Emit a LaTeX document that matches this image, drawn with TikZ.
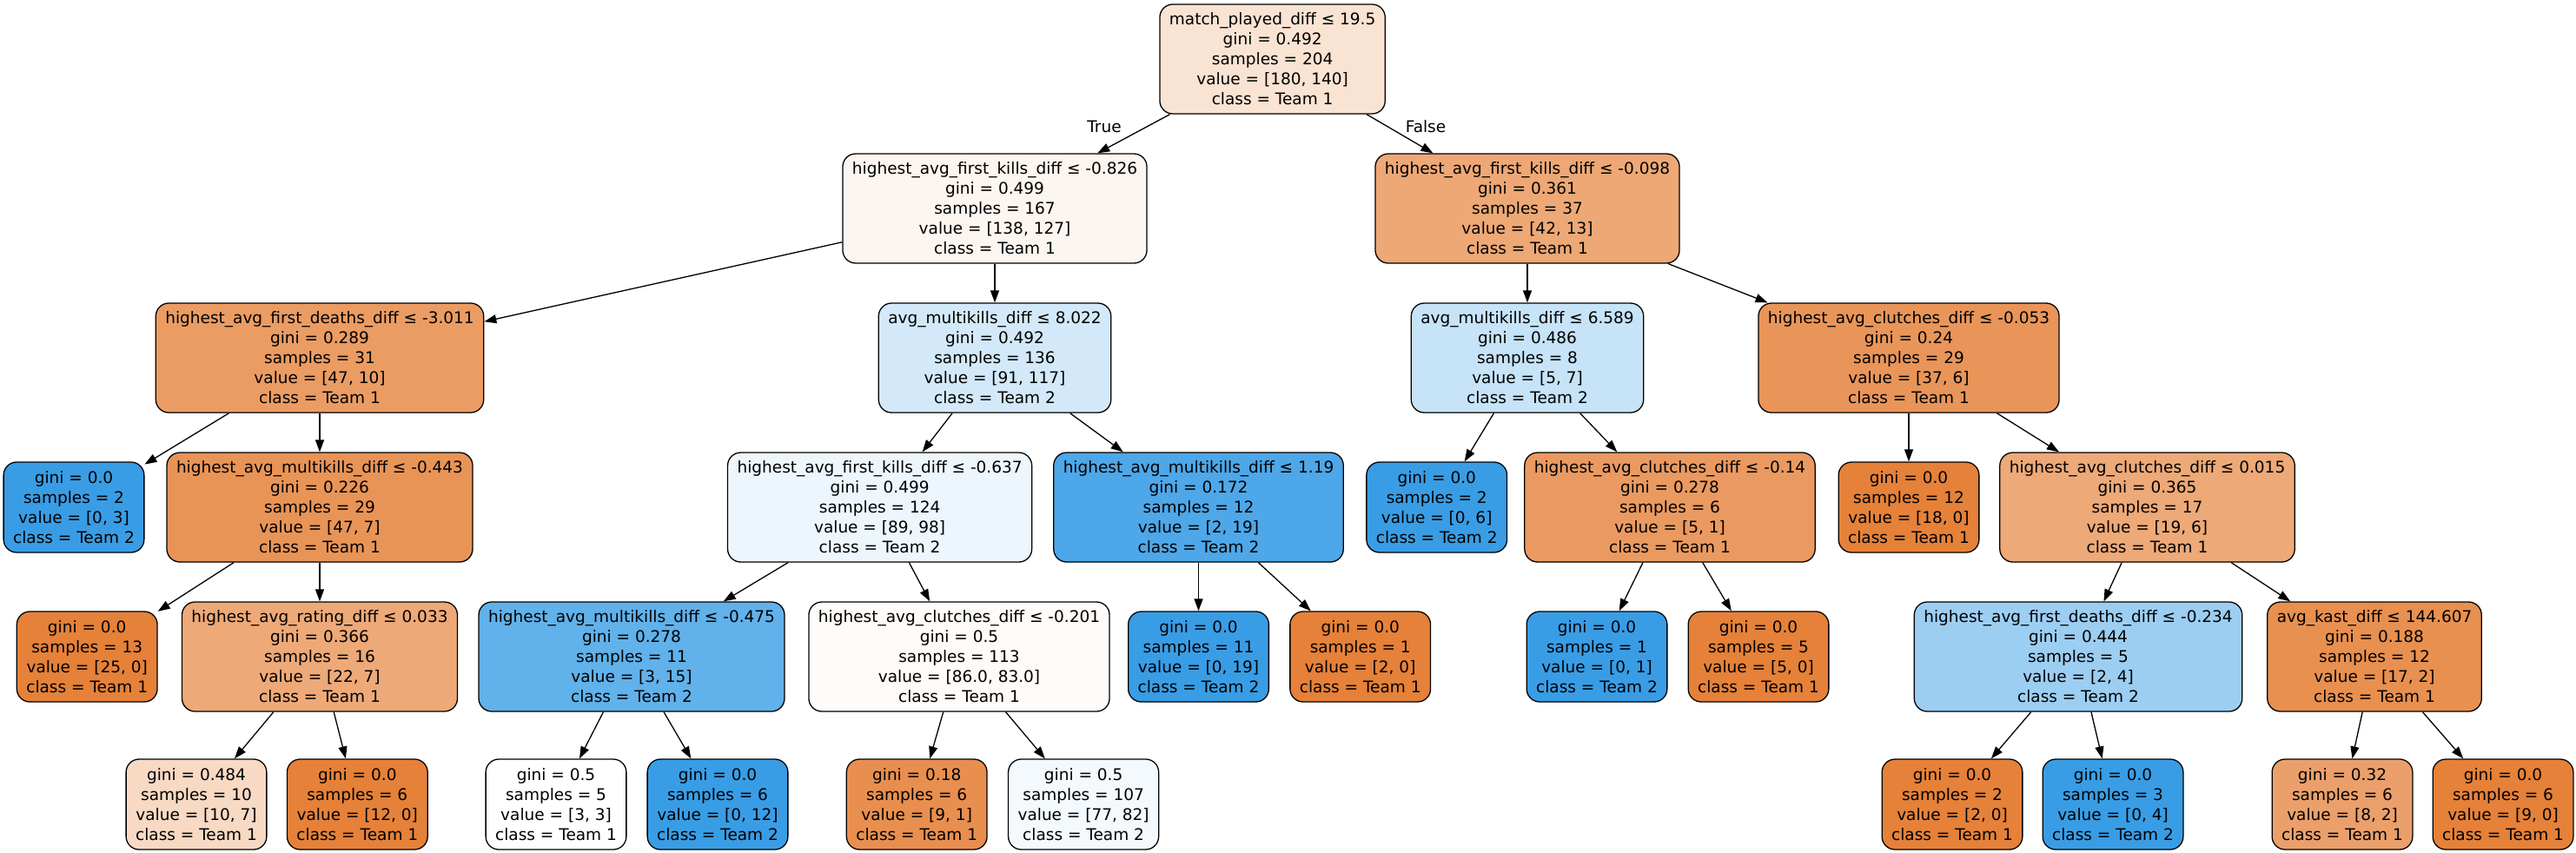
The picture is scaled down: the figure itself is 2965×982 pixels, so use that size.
\documentclass[tikz,border=0pt]{standalone}
\usepackage{fontspec}
\setmainfont{DejaVu Sans}
\usetikzlibrary{arrows.meta}
\definecolor{Tone}{RGB}{229,129,57}
\definecolor{Ttwo}{RGB}{57,157,229}
\tikzset{
  tn/.style={draw=black, line width=1.3pt, rounded corners=15pt, align=center,
    font=\fontsize{18.5}{23}\selectfont, inner xsep=11pt, inner ysep=0pt, minimum height=126pt},
  lf/.style={tn, minimum height=104pt},
  edge/.style={line width=1.3pt, -{Triangle[length=14pt,width=10pt]}},
  lbl/.style={font=\fontsize{18.5}{23}\selectfont, inner sep=0pt},
}
\begin{document}
\begin{tikzpicture}[x=1pt,y=-1pt]
\useasboundingbox (0,0) rectangle (2965,982);
% level 0
\node[tn, fill=Tone!22.2!white] (root) at (1464.6,68) {match\_played\_diff ≤ 19.5\\gini = 0.492\\samples = 204\\value = [180, 140]\\class = Team 1};
% level 1
\node[tn, fill=Tone!8!white] (n1) at (1145,240) {highest\_avg\_first\_kills\_diff ≤ -0.826\\gini = 0.499\\samples = 167\\value = [138, 127]\\class = Team 1};
\node[tn, fill=Tone!69!white] (nF) at (1758,240) {highest\_avg\_first\_kills\_diff ≤ -0.098\\gini = 0.361\\samples = 37\\value = [42, 13]\\class = Team 1};
% level 2
\node[tn, fill=Tone!78.7!white] (n2) at (368,412) {highest\_avg\_first\_deaths\_diff ≤ -3.011\\gini = 0.289\\samples = 31\\value = [47, 10]\\class = Team 1};
\node[tn, fill=Ttwo!22.2!white] (n3) at (1145,412) {avg\_multikills\_diff ≤ 8.022\\gini = 0.492\\samples = 136\\value = [91, 117]\\class = Team 2};
\node[tn, fill=Ttwo!28.6!white] (n4) at (1758,412) {avg\_multikills\_diff ≤ 6.589\\gini = 0.486\\samples = 8\\value = [5, 7]\\class = Team 2};
\node[tn, fill=Tone!83.8!white] (n5) at (2197,412) {highest\_avg\_clutches\_diff ≤ -0.053\\gini = 0.24\\samples = 29\\value = [37, 6]\\class = Team 1};
% level 3
\node[lf, fill=Ttwo] (la) at (85,584) {gini = 0.0\\samples = 2\\value = [0, 3]\\class = Team 2};
\node[tn, fill=Tone!85.1!white] (n6) at (368,584) {highest\_avg\_multikills\_diff ≤ -0.443\\gini = 0.226\\samples = 29\\value = [47, 7]\\class = Team 1};
\node[tn, fill=Ttwo!9.2!white] (n7) at (1012.6,584) {highest\_avg\_first\_kills\_diff ≤ -0.637\\gini = 0.499\\samples = 124\\value = [89, 98]\\class = Team 2};
\node[tn, fill=Ttwo!89.5!white] (n8) at (1379.5,584) {highest\_avg\_multikills\_diff ≤ 1.19\\gini = 0.172\\samples = 12\\value = [2, 19]\\class = Team 2};
\node[lf, fill=Ttwo] (lb) at (1653.7,584) {gini = 0.0\\samples = 2\\value = [0, 6]\\class = Team 2};
\node[tn, fill=Tone!80!white] (n9) at (1922,584) {highest\_avg\_clutches\_diff ≤ -0.14\\gini = 0.278\\samples = 6\\value = [5, 1]\\class = Team 1};
\node[lf, fill=Tone] (lc) at (2197,584) {gini = 0.0\\samples = 12\\value = [18, 0]\\class = Team 1};
\node[tn, fill=Tone!68.4!white] (n10) at (2471.5,584) {highest\_avg\_clutches\_diff ≤ 0.015\\gini = 0.365\\samples = 17\\value = [19, 6]\\class = Team 1};
% level 4
\node[lf, fill=Tone] (ld) at (100.2,756) {gini = 0.0\\samples = 13\\value = [25, 0]\\class = Team 1};
\node[tn, fill=Tone!68.2!white] (n11) at (368,756) {highest\_avg\_rating\_diff ≤ 0.033\\gini = 0.366\\samples = 16\\value = [22, 7]\\class = Team 1};
\node[tn, fill=Ttwo!80!white] (n12) at (727,756) {highest\_avg\_multikills\_diff ≤ -0.475\\gini = 0.278\\samples = 11\\value = [3, 15]\\class = Team 2};
\node[tn, fill=Tone!3.5!white] (n13) at (1104,756) {highest\_avg\_clutches\_diff ≤ -0.201\\gini = 0.5\\samples = 113\\value = [86.0, 83.0]\\class = Team 1};
\node[lf, fill=Ttwo] (le) at (1379.5,756) {gini = 0.0\\samples = 11\\value = [0, 19]\\class = Team 2};
\node[lf, fill=Tone] (lf1) at (1565.7,756) {gini = 0.0\\samples = 1\\value = [2, 0]\\class = Team 1};
\node[lf, fill=Ttwo] (lg) at (1838,756) {gini = 0.0\\samples = 1\\value = [0, 1]\\class = Team 2};
\node[lf, fill=Tone] (lh) at (2024,756) {gini = 0.0\\samples = 5\\value = [5, 0]\\class = Team 1};
\node[tn, fill=Ttwo!50!white] (n14) at (2392,756) {highest\_avg\_first\_deaths\_diff ≤ -0.234\\gini = 0.444\\samples = 5\\value = [2, 4]\\class = Team 2};
\node[tn, fill=Tone!88.2!white] (n15) at (2733,756) {avg\_kast\_diff ≤ 144.607\\gini = 0.188\\samples = 12\\value = [17, 2]\\class = Team 1};
% level 5
\node[lf, fill=Tone!30!white] (li) at (226,926) {gini = 0.484\\samples = 10\\value = [10, 7]\\class = Team 1};
\node[lf, fill=Tone] (lj) at (411.3,926) {gini = 0.0\\samples = 6\\value = [12, 0]\\class = Team 1};
\node[lf, fill=white] (lk) at (640,926) {gini = 0.5\\samples = 5\\value = [3, 3]\\class = Team 1};
\node[lf, fill=Ttwo] (ll) at (826,926) {gini = 0.0\\samples = 6\\value = [0, 12]\\class = Team 2};
\node[lf, fill=Tone!88.9!white] (lm) at (1055.2,926) {gini = 0.18\\samples = 6\\value = [9, 1]\\class = Team 1};
\node[lf, fill=Ttwo!6.1!white] (ln) at (1247.1,926) {gini = 0.5\\samples = 107\\value = [77, 82]\\class = Team 2};
\node[lf, fill=Tone] (lo) at (2247,926) {gini = 0.0\\samples = 2\\value = [2, 0]\\class = Team 1};
\node[lf, fill=Ttwo] (lp) at (2432,926) {gini = 0.0\\samples = 3\\value = [0, 4]\\class = Team 2};
\node[lf, fill=Tone!75!white] (lq) at (2696,926) {gini = 0.32\\samples = 6\\value = [8, 2]\\class = Team 1};
\node[lf, fill=Tone] (lr) at (2881,926) {gini = 0.0\\samples = 6\\value = [9, 0]\\class = Team 1};
% edge labels
\node[lbl] (ltrue) at (1271,146) {True};
\node[lbl] (lfalse) at (1641,146) {False};
% edges
\draw[edge] (root) -- (n1);
\draw[edge] (root) -- (nF);
\draw[edge] (n1) -- (n2);
\draw[edge] (n1) -- (n3);
\draw[edge] (nF) -- (n4);
\draw[edge] (nF) -- (n5);
\draw[edge] (n2) -- (la);
\draw[edge] (n2) -- (n6);
\draw[edge] (n3) -- (n7);
\draw[edge] (n3) -- (n8);
\draw[edge] (n4) -- (lb);
\draw[edge] (n4) -- (n9);
\draw[edge] (n5) -- (lc);
\draw[edge] (n5) -- (n10);
\draw[edge] (n6) -- (ld);
\draw[edge] (n6) -- (n11);
\draw[edge] (n7) -- (n12);
\draw[edge] (n7) -- (n13);
\draw[edge] (n8) -- (le);
\draw[edge] (n8) -- (lf1);
\draw[edge] (n9) -- (lg);
\draw[edge] (n9) -- (lh);
\draw[edge] (n10) -- (n14);
\draw[edge] (n10) -- (n15);
\draw[edge] (n11) -- (li);
\draw[edge] (n11) -- (lj);
\draw[edge] (n12) -- (lk);
\draw[edge] (n12) -- (ll);
\draw[edge] (n13) -- (lm);
\draw[edge] (n13) -- (ln);
\draw[edge] (n14) -- (lo);
\draw[edge] (n14) -- (lp);
\draw[edge] (n15) -- (lq);
\draw[edge] (n15) -- (lr);
\end{tikzpicture}
\end{document}
